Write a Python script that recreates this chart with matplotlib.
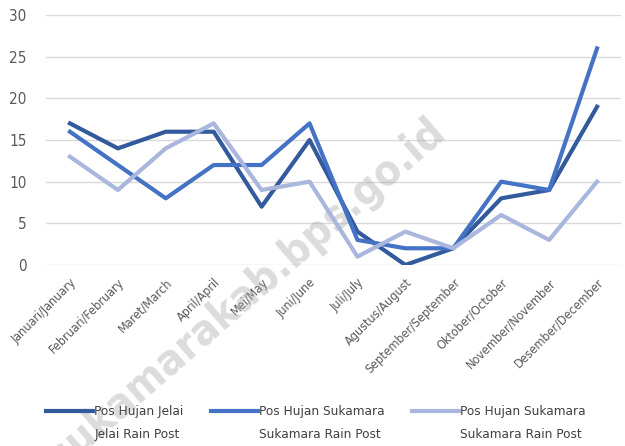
import matplotlib
matplotlib.use("Agg")
import matplotlib.pyplot as plt

months = ["Januari/January", "Februari/February", "Maret/March", "April/April",
          "Mei/May", "Juni/June", "Juli/July", "Agustus/August",
          "September/September", "Oktober/October", "November/November",
          "Desember/December"]
jelai = [17, 14, 16, 16, 7, 15, 4, 0, 2, 8, 9, 19]
sukamara = [16, 12, 8, 12, 12, 17, 3, 2, 2, 10, 9, 26]
sukamara2 = [13, 9, 14, 17, 9, 10, 1, 4, 2, 6, 3, 10]
labels = ["Pos Hujan Jelai\nJelai Rain Post",
          "Pos Hujan Sukamara\nSukamara Rain Post",
          "Pos Hujan Sukamara\nSukamara Rain Post"]
colors = ["#335a9c", "#4472c4", "#a9b6dd"]

plt.rcParams["font.family"] = ["DejaVu Sans"]
plt.rcParams["font.stretch"] = "condensed"

fig = plt.figure(figsize=(6.25, 4.46), dpi=100)
ax = fig.add_axes([0.0736, 0.406, 0.92, 0.56])

x = list(range(len(months)))
for ys, c, lab in zip([jelai, sukamara, sukamara2], colors, labels):
    ax.plot(x, ys, color=c, lw=3, label=lab, zorder=3)

ax.set_xlim(-0.5, 11.5)
ax.set_ylim(0, 30)
ax.set_yticks(range(0, 31, 5))
ax.grid(axis="y", color="#d9d9d9", lw=1)
ax.set_axisbelow(True)
for s in ax.spines.values():
    s.set_visible(False)
ax.tick_params(length=0, labelsize=11, colors="#595959")
ax.tick_params(axis="y", pad=14)
ax.tick_params(axis="x", pad=8)
ax.set_xticks(x)
ax.set_xticklabels(months, rotation=45, ha="right", va="top", rotation_mode="anchor", fontsize=9)

# watermark
ax.text(0.395, 0.34, "sukamarakab.bps.go.id", rotation=41, fontsize=31, fontweight="bold",
        color="#a8a8a8", alpha=0.4, ha="center", va="center", transform=fig.transFigure,
        zorder=1, clip_on=False)

leg = fig.legend(loc="center left", bbox_to_anchor=(46 / 625, 1 - 423 / 446), ncol=3,
                 frameon=False, fontsize=9.7, handlelength=3.5, columnspacing=2.0,
                 handletextpad=0.1, borderpad=0, borderaxespad=0, labelcolor="#404040")
for t in leg.get_texts():
    t.set_linespacing(2.0)
for h in leg.legend_handles:
    h.set_ydata([v + 9 for v in h.get_ydata()])

fig.savefig("out.png", dpi=100)
